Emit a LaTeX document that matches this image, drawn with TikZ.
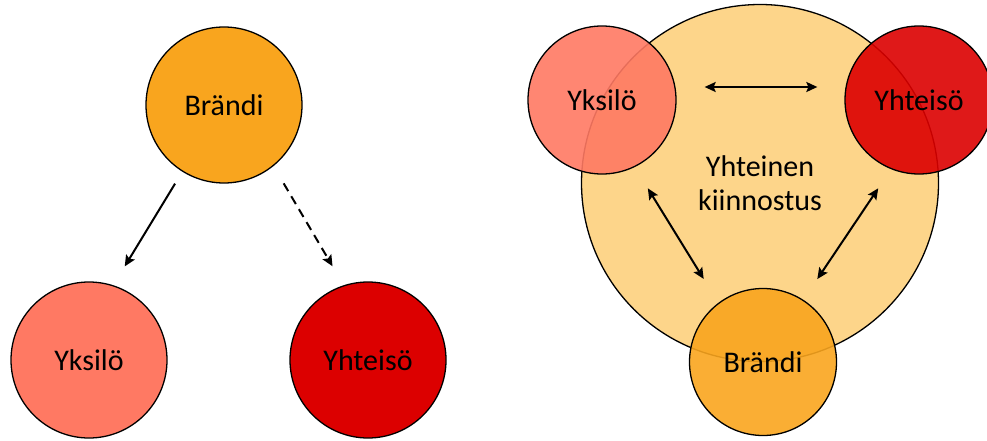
\documentclass[tikz,border=0pt]{standalone}
\usepackage{fontspec}
\setmainfont{Carlito}
\usetikzlibrary{arrows.meta}

\definecolor{brandi}{RGB}{249,165,30}
\definecolor{yksilo}{RGB}{255,121,99}
\definecolor{yhteiso}{RGB}{220,0,0}
\definecolor{kiinnostus}{RGB}{253,213,138}

\begin{document}
\begin{tikzpicture}[x=1pt,y=1pt,
  bubble/.style={circle,draw=black,line width=1.3pt,inner sep=0pt,minimum size=#1,
    font=\fontsize{30}{34}\selectfont,align=center},
  bubble/.default=156pt,
  seethru/.style={fill opacity=0.9,text opacity=1},
  link/.style={line width=2pt,-{Stealth[length=11pt,width=10pt,inset=2pt]}},
  twoway/.style={line width=2pt,{Stealth[length=11pt,width=10pt,inset=2pt]}-{Stealth[length=11pt,width=10pt,inset=2pt]}}]
\useasboundingbox (0,0) rectangle (987,440);

% Left: the brand reaches the individual directly, the community indirectly
\node[bubble,fill=brandi] (braL) at (224,335) {Brändi};
\node[bubble,fill=yksilo] (yksL) at (89,80) {Yksilö};
\node[bubble,fill=yhteiso] (yhtL) at (368,80) {Yhteisö};
\draw[link,shorten <=14pt,shorten >=22pt] (braL.238) -- (yksL.72);
\draw[link,dash pattern=on 9pt off 6pt,shorten <=20pt,shorten >=22pt] (braL.309) -- (yhtL.108);

% Right: all three around a shared interest
\node[bubble=357pt,fill=kiinnostus] (kiin) at (760,257) {Yhteinen\\kiinnostus};
\node[bubble=148pt,fill=yksilo,seethru] (yksR) at (602,340) {Yksilö};
\node[bubble=148pt,fill=yhteiso,seethru] (yhtR) at (919,340) {Yhteisö};
\node[bubble=147pt,fill=brandi,seethru] (braR) at (763,78) {Brändi};

% Two-way links
\draw[twoway,shorten <=28pt,shorten >=27pt] ([yshift=13pt]yksR.east) -- ([yshift=13pt]yhtR.west);
\draw[twoway,shorten <=25pt,shorten >=28pt] (yksR.296) -- (braR.127);
\draw[twoway,shorten <=23pt,shorten >=25pt] (yhtR.248) -- (braR.57);
\end{tikzpicture}
\end{document}
